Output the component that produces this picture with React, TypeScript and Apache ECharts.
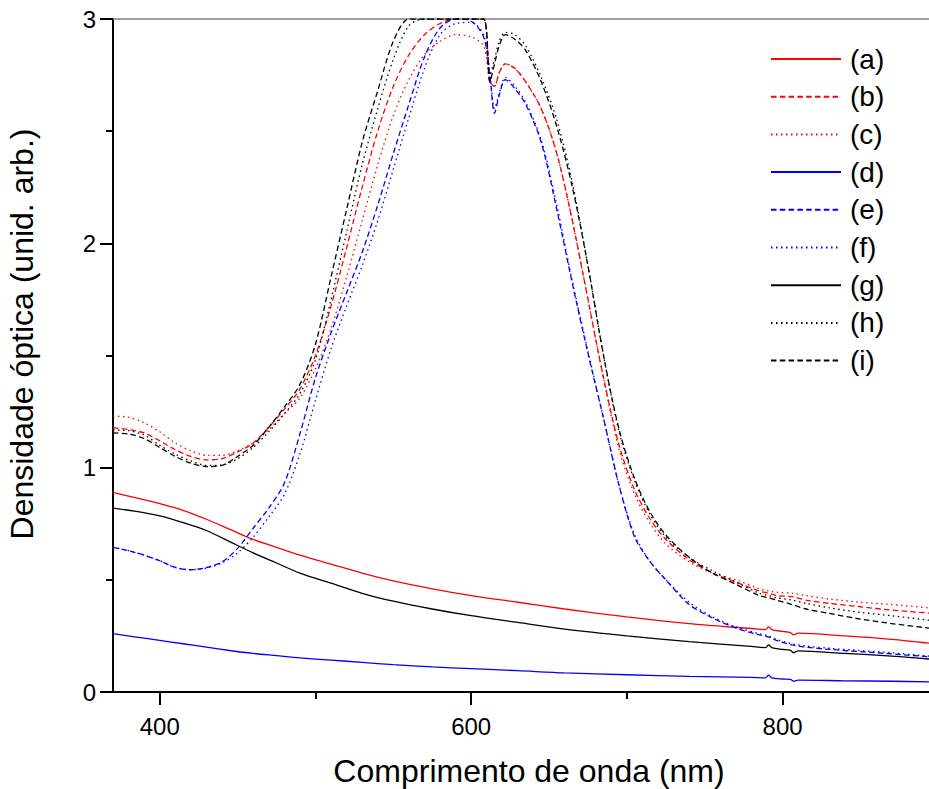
import React, { useEffect, useRef } from "react";
import * as echarts from "echarts";

const FONT = '"Liberation Sans", Arial, Helvetica, sans-serif';

// wavelengths (nm) for the smooth baseline spectra
const solidWl = [370, 385, 400, 415, 430, 445, 460, 475, 490, 510, 530, 550, 575, 600, 630, 660, 700, 740, 780, 789, 791, 793, 800, 805, 807, 810, 840, 870, 894];
const seriesA = [0.89, 0.865, 0.84, 0.81, 0.77, 0.725, 0.68, 0.645, 0.61, 0.57, 0.53, 0.495, 0.46, 0.43, 0.4, 0.37, 0.335, 0.305, 0.283, 0.278, 0.29, 0.278, 0.27, 0.265, 0.255, 0.262, 0.25, 0.235, 0.218];
const seriesD = [0.26, 0.245, 0.23, 0.215, 0.2, 0.185, 0.172, 0.162, 0.152, 0.142, 0.132, 0.122, 0.112, 0.104, 0.095, 0.085, 0.077, 0.07, 0.065, 0.063, 0.075, 0.063, 0.058, 0.056, 0.048, 0.053, 0.05, 0.048, 0.045];
const seriesG = [0.82, 0.805, 0.785, 0.755, 0.72, 0.67, 0.62, 0.575, 0.53, 0.485, 0.44, 0.405, 0.37, 0.34, 0.31, 0.28, 0.25, 0.225, 0.203, 0.198, 0.21, 0.198, 0.19, 0.186, 0.175, 0.183, 0.172, 0.16, 0.147];

// wavelengths (nm) for the band spectra
const peakWl = [370, 380, 390, 400, 410, 420, 430, 440, 450, 460, 470, 480, 490, 500, 510, 520, 530, 540, 550, 560, 570, 580, 590, 600, 608, 612, 615, 618, 622, 628, 635, 645, 655, 665, 675, 685, 695, 705, 715, 725, 740, 755, 770, 785, 791, 796, 806, 815, 830, 850, 870, 894];
const seriesB = [1.178, 1.17, 1.155, 1.12, 1.08, 1.05, 1.035, 1.04, 1.07, 1.11, 1.18, 1.26, 1.35, 1.5, 1.72, 1.98, 2.25, 2.5, 2.7, 2.84, 2.93, 2.98, 3.0, 3.0, 3.0, 2.72, 2.7, 2.76, 2.8, 2.78, 2.72, 2.6, 2.4, 2.1, 1.75, 1.4, 1.1, 0.9, 0.77, 0.68, 0.59, 0.53, 0.49, 0.45, 0.44, 0.43, 0.425, 0.41, 0.395, 0.38, 0.365, 0.352];
const seriesC = [1.23, 1.225, 1.2, 1.16, 1.11, 1.075, 1.055, 1.055, 1.075, 1.11, 1.17, 1.24, 1.31, 1.44, 1.62, 1.85, 2.1, 2.35, 2.57, 2.73, 2.84, 2.9, 2.93, 2.92, 2.88, 2.72, 2.7, 2.76, 2.8, 2.78, 2.72, 2.6, 2.4, 2.1, 1.75, 1.4, 1.08, 0.88, 0.75, 0.66, 0.58, 0.53, 0.5, 0.46, 0.45, 0.445, 0.44, 0.43, 0.415, 0.4, 0.39, 0.375];
const seriesE = [0.645, 0.63, 0.61, 0.585, 0.555, 0.545, 0.555, 0.58, 0.64, 0.73, 0.82, 0.93, 1.15, 1.4, 1.6, 1.78, 1.96, 2.17, 2.4, 2.62, 2.83, 2.96, 3.0, 2.99, 2.92, 2.75, 2.58, 2.66, 2.73, 2.69, 2.62, 2.45, 2.15, 1.82, 1.51, 1.22, 0.92, 0.69, 0.58, 0.5, 0.39, 0.33, 0.285, 0.255, 0.245, 0.23, 0.21, 0.2, 0.19, 0.18, 0.17, 0.157];
const seriesF = [0.645, 0.63, 0.61, 0.585, 0.555, 0.545, 0.553, 0.575, 0.62, 0.69, 0.78, 0.88, 1.06, 1.3, 1.53, 1.72, 1.9, 2.1, 2.33, 2.56, 2.78, 2.93, 2.98, 2.985, 2.93, 2.76, 2.6, 2.67, 2.74, 2.7, 2.63, 2.46, 2.17, 1.83, 1.52, 1.22, 0.92, 0.7, 0.58, 0.5, 0.4, 0.335, 0.29, 0.26, 0.25, 0.235, 0.215, 0.205, 0.195, 0.185, 0.175, 0.16];
const seriesH = [1.168, 1.165, 1.145, 1.1, 1.06, 1.03, 1.01, 1.012, 1.04, 1.09, 1.16, 1.24, 1.33, 1.48, 1.75, 2.05, 2.35, 2.6, 2.82, 2.97, 3.0, 3.0, 3.0, 3.0, 3.0, 2.75, 2.82, 2.9, 2.94, 2.93, 2.88, 2.74, 2.55, 2.27, 1.9, 1.5, 1.16, 0.94, 0.79, 0.69, 0.6, 0.54, 0.49, 0.44, 0.43, 0.42, 0.41, 0.395, 0.375, 0.355, 0.34, 0.32];
const seriesI = [1.155, 1.15, 1.13, 1.09, 1.05, 1.02, 1.005, 1.01, 1.05, 1.1, 1.18, 1.27, 1.37, 1.55, 1.85, 2.15, 2.45, 2.68, 2.9, 3.0, 3.0, 3.0, 3.0, 3.0, 3.0, 2.72, 2.8, 2.88, 2.93, 2.91, 2.86, 2.72, 2.52, 2.25, 1.9, 1.5, 1.17, 0.95, 0.8, 0.7, 0.6, 0.53, 0.48, 0.43, 0.42, 0.41, 0.39, 0.37, 0.35, 0.325, 0.305, 0.285];

const legendNames = ["(a)", "(b)", "(c)", "(d)", "(e)", "(f)", "(g)", "(h)", "(i)"];
const xMajorTicks = [400, 600, 800];
const xMinorTicks = [500, 700];

const RED = "#ff0000";
const BLUE = "#0000ff";
const BLACK = "#000000";
const DASH = [5.5, 3.3];
const DOT = [1.5, 3.5];

function zip(xs: number[], ys: number[]) {
  return xs.map((x, i) => [x, ys[i]]);
}

export default function App() {
  const ref = useRef<HTMLDivElement>(null);
  useEffect(() => {
    if (!ref.current) return;
    const chart = echarts.init(ref.current, undefined, { renderer: "svg" });
    const defs: [string, number[], number[], string, any][] = [
      [legendNames[0], solidWl, seriesA, RED, "solid"],
      [legendNames[1], peakWl, seriesB, RED, DASH],
      [legendNames[2], peakWl, seriesC, RED, DOT],
      [legendNames[3], solidWl, seriesD, BLUE, "solid"],
      [legendNames[4], peakWl, seriesE, BLUE, DASH],
      [legendNames[5], peakWl, seriesF, BLUE, DOT],
      [legendNames[6], solidWl, seriesG, BLACK, "solid"],
      [legendNames[7], peakWl, seriesH, BLACK, DOT],
      [legendNames[8], peakWl, seriesI, BLACK, DASH],
    ];
    const series = defs.map(([name, xs, ys, color, type]) => ({
      name,
      type: "line",
      data: zip(xs, ys),
      xAxisIndex: 0,
      yAxisIndex: 0,
      symbol: "none",
      smooth: 0.3,
      color,
      lineStyle: { color, width: 1.3, type, cap: "butt" },
      emphasis: { disabled: true },
    }));
    const axisBase = {
      type: "value",
      min: 370,
      max: 894,
      splitLine: { show: false },
    };
    chart.setOption({
      animation: false,
      backgroundColor: "#ffffff",
      grid: { left: 113, right: 0, top: 19, bottom: 97, containLabel: false },
      xAxis: [
        {
          ...axisBase,
          position: "bottom",
          axisLine: { show: true, lineStyle: { color: "#000", width: 2 } },
          axisTick: { show: true, inside: false, length: 13, customValues: xMajorTicks, lineStyle: { color: "#000", width: 2 } },
          axisLabel: { show: true, customValues: xMajorTicks, margin: 22, fontSize: 24, color: "#000", fontFamily: FONT },
        },
        {
          ...axisBase,
          position: "bottom",
          axisLine: { show: false },
          axisTick: { show: true, inside: false, length: 7, customValues: xMinorTicks, lineStyle: { color: "#000", width: 2 } },
          axisLabel: { show: false },
        },
        {
          ...axisBase,
          position: "top",
          axisLine: { show: true, lineStyle: { color: "#808080", width: 1.5 } },
          axisTick: { show: false },
          axisLabel: { show: false },
        },
      ],
      yAxis: {
        type: "value",
        min: 0,
        max: 3,
        interval: 1,
        splitLine: { show: false },
        axisLine: { show: true, lineStyle: { color: "#000", width: 2 } },
        axisTick: { show: true, inside: false, length: 13, lineStyle: { color: "#000", width: 2 } },
        minorTick: { show: true, splitNumber: 2, length: 7, lineStyle: { color: "#000", width: 2 } },
        axisLabel: { margin: 17, fontSize: 24, color: "#000", fontFamily: FONT },
      },
      legend: {
        orient: "vertical",
        left: 765,
        top: 40,
        itemWidth: 70,
        itemHeight: 14,
        itemGap: 9.7,
        data: legendNames,
        itemStyle: { opacity: 0 },
        textStyle: { fontSize: 28, lineHeight: 28, color: "#000", fontFamily: FONT, padding: [0, 0, 0, 4] },
        selectedMode: false,
      },
      graphic: [
        {
          type: "text",
          x: 529,
          y: 771,
          style: {
            text: "Comprimento de onda (nm)",
            font: `32px ${FONT}`,
            fill: "#000",
            textAlign: "center",
            textVerticalAlign: "middle",
          },
        },
        {
          type: "text",
          x: 22,
          y: 334,
          rotation: Math.PI / 2,
          style: {
            text: "Densidade óptica (unid. arb.)",
            font: `32px ${FONT}`,
            fill: "#000",
            textAlign: "center",
            textVerticalAlign: "middle",
          },
        },
      ],
      series,
    });
    return () => chart.dispose();
  }, []);
  return (
    <div
      ref={ref}
      style={{ position: "absolute", left: 0, top: 0, width: 929, height: 789, background: "#fff" }}
    />
  );
}
